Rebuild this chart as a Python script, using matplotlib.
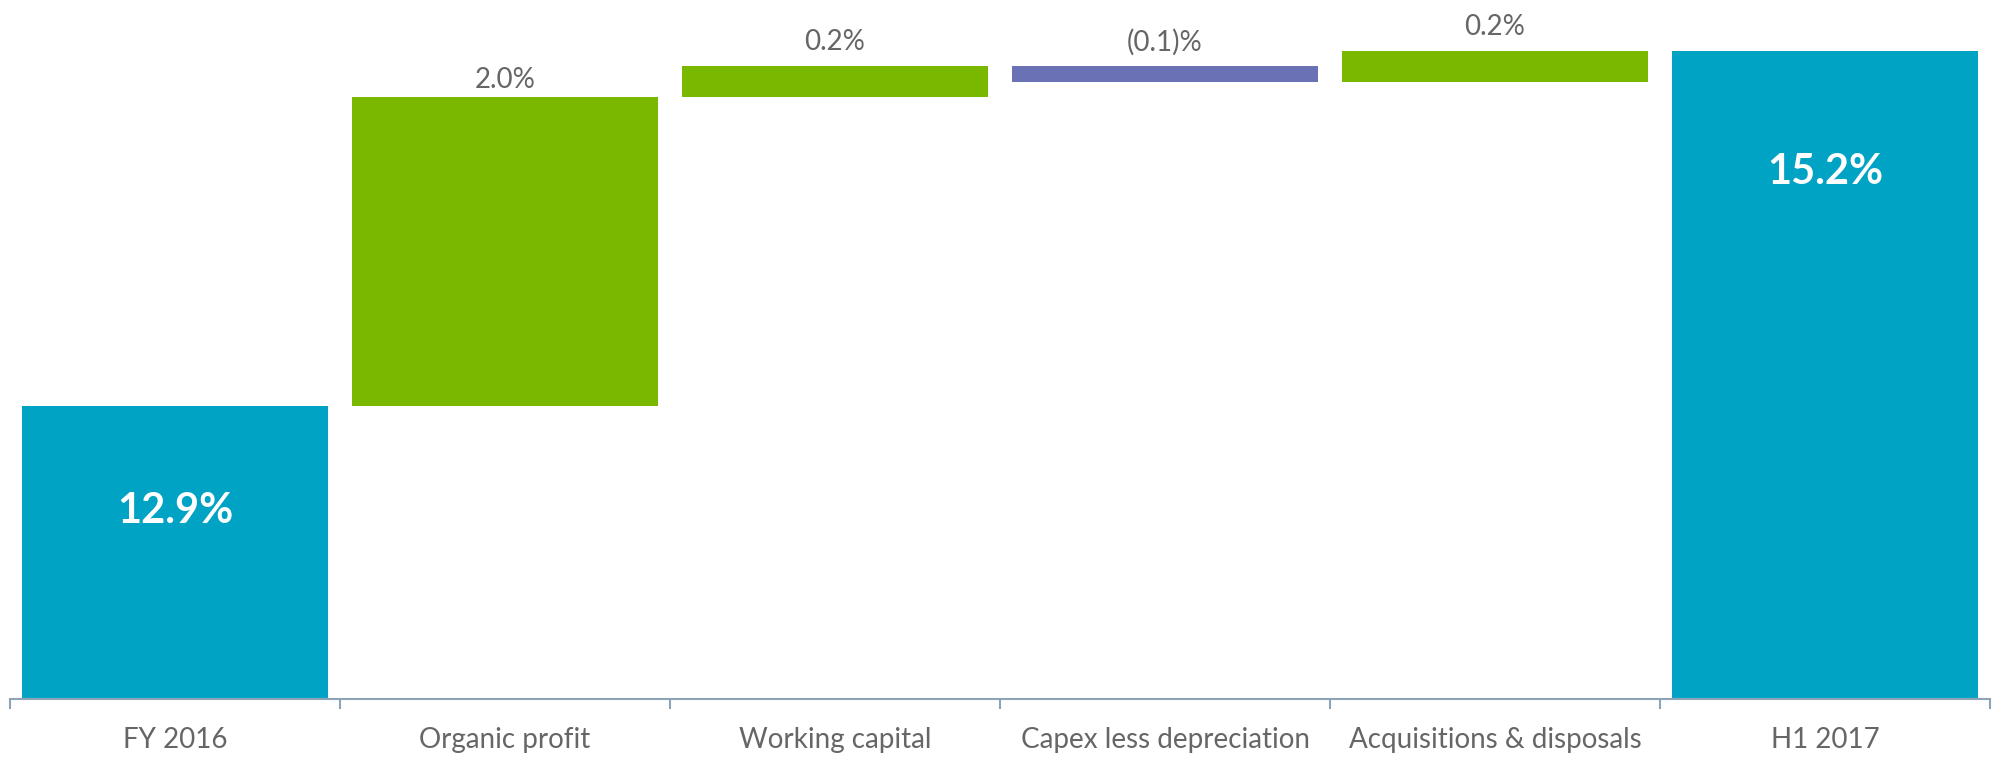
import matplotlib
matplotlib.use('Agg')
import matplotlib.pyplot as plt
import numpy as np

plt.rcParams['font.family'] = ['Lato', 'DejaVu Sans']

# Данные для каскадной диаграммы
categories = ['FY 2016', 'Organic profit', 'Working capital',
              'Capex less depreciation', 'Acquisitions & disposals', 'H1 2017']
values = [12.9, 2.0, 0.2, -0.1, 0.2, 15.2]
is_total = [True, False, False, False, False, True]
labels = ['12.9%', '2.0%', '0.2%', '(0.1)%', '0.2%', '15.2%']

# сдвиг подписей в пикселях от верха столбца
label_shift = [-105, 4, 11, 11, 11, -121]

c_total = '#00A3C4'
c_up = '#7AB800'
c_down = '#6A72B5'
c_text = '#666666'
c_axis = '#8FA3B8'

y_min = 11.0

fig = plt.figure(figsize=(19.99, 7.57), dpi=100)
ax = fig.add_axes([0.005, 0.0766, 0.9905, 0.9234])

x = np.arange(len(categories))
run = 0.0
for i, (v, tot) in enumerate(zip(values, is_total)):
    if tot:
        bottom, height, color = y_min, v - y_min, c_total
        run = v
    else:
        bottom = run if v >= 0 else run + v
        height = abs(v)
        color = c_up if v >= 0 else c_down
        run += v
    ax.bar(x[i], height, bottom=bottom, width=0.925, color=color,
           edgecolor='none')
    top = bottom + height
    if tot:
        ax.annotate(labels[i], (x[i], top), xytext=(0, label_shift[i]),
                    textcoords='offset pixels', ha='center', va='center',
                    color='white', fontsize=30, fontweight='bold')
    else:
        ax.annotate(labels[i], (x[i], top), xytext=(0, label_shift[i]),
                    textcoords='offset pixels', ha='center', va='bottom',
                    color=c_text, fontsize=20)

ax.set_xlim(-0.5, len(categories) - 0.5)
ax.set_ylim(y_min, 15.53)

for s in ['top', 'right', 'left']:
    ax.spines[s].set_visible(False)
ax.spines['bottom'].set_color(c_axis)
ax.spines['bottom'].set_linewidth(1.5)
ax.set_yticks([])

ax.set_xticks(x)
ax.set_xticklabels(categories, fontsize=20, color=c_text)
ax.set_xticks(np.arange(len(categories) + 1) - 0.5, minor=True)
ax.tick_params(axis='x', which='major', length=0, pad=20)
ax.tick_params(axis='x', which='minor', length=7, width=1.5, color=c_axis)

fig.savefig('out.png', dpi=100)
